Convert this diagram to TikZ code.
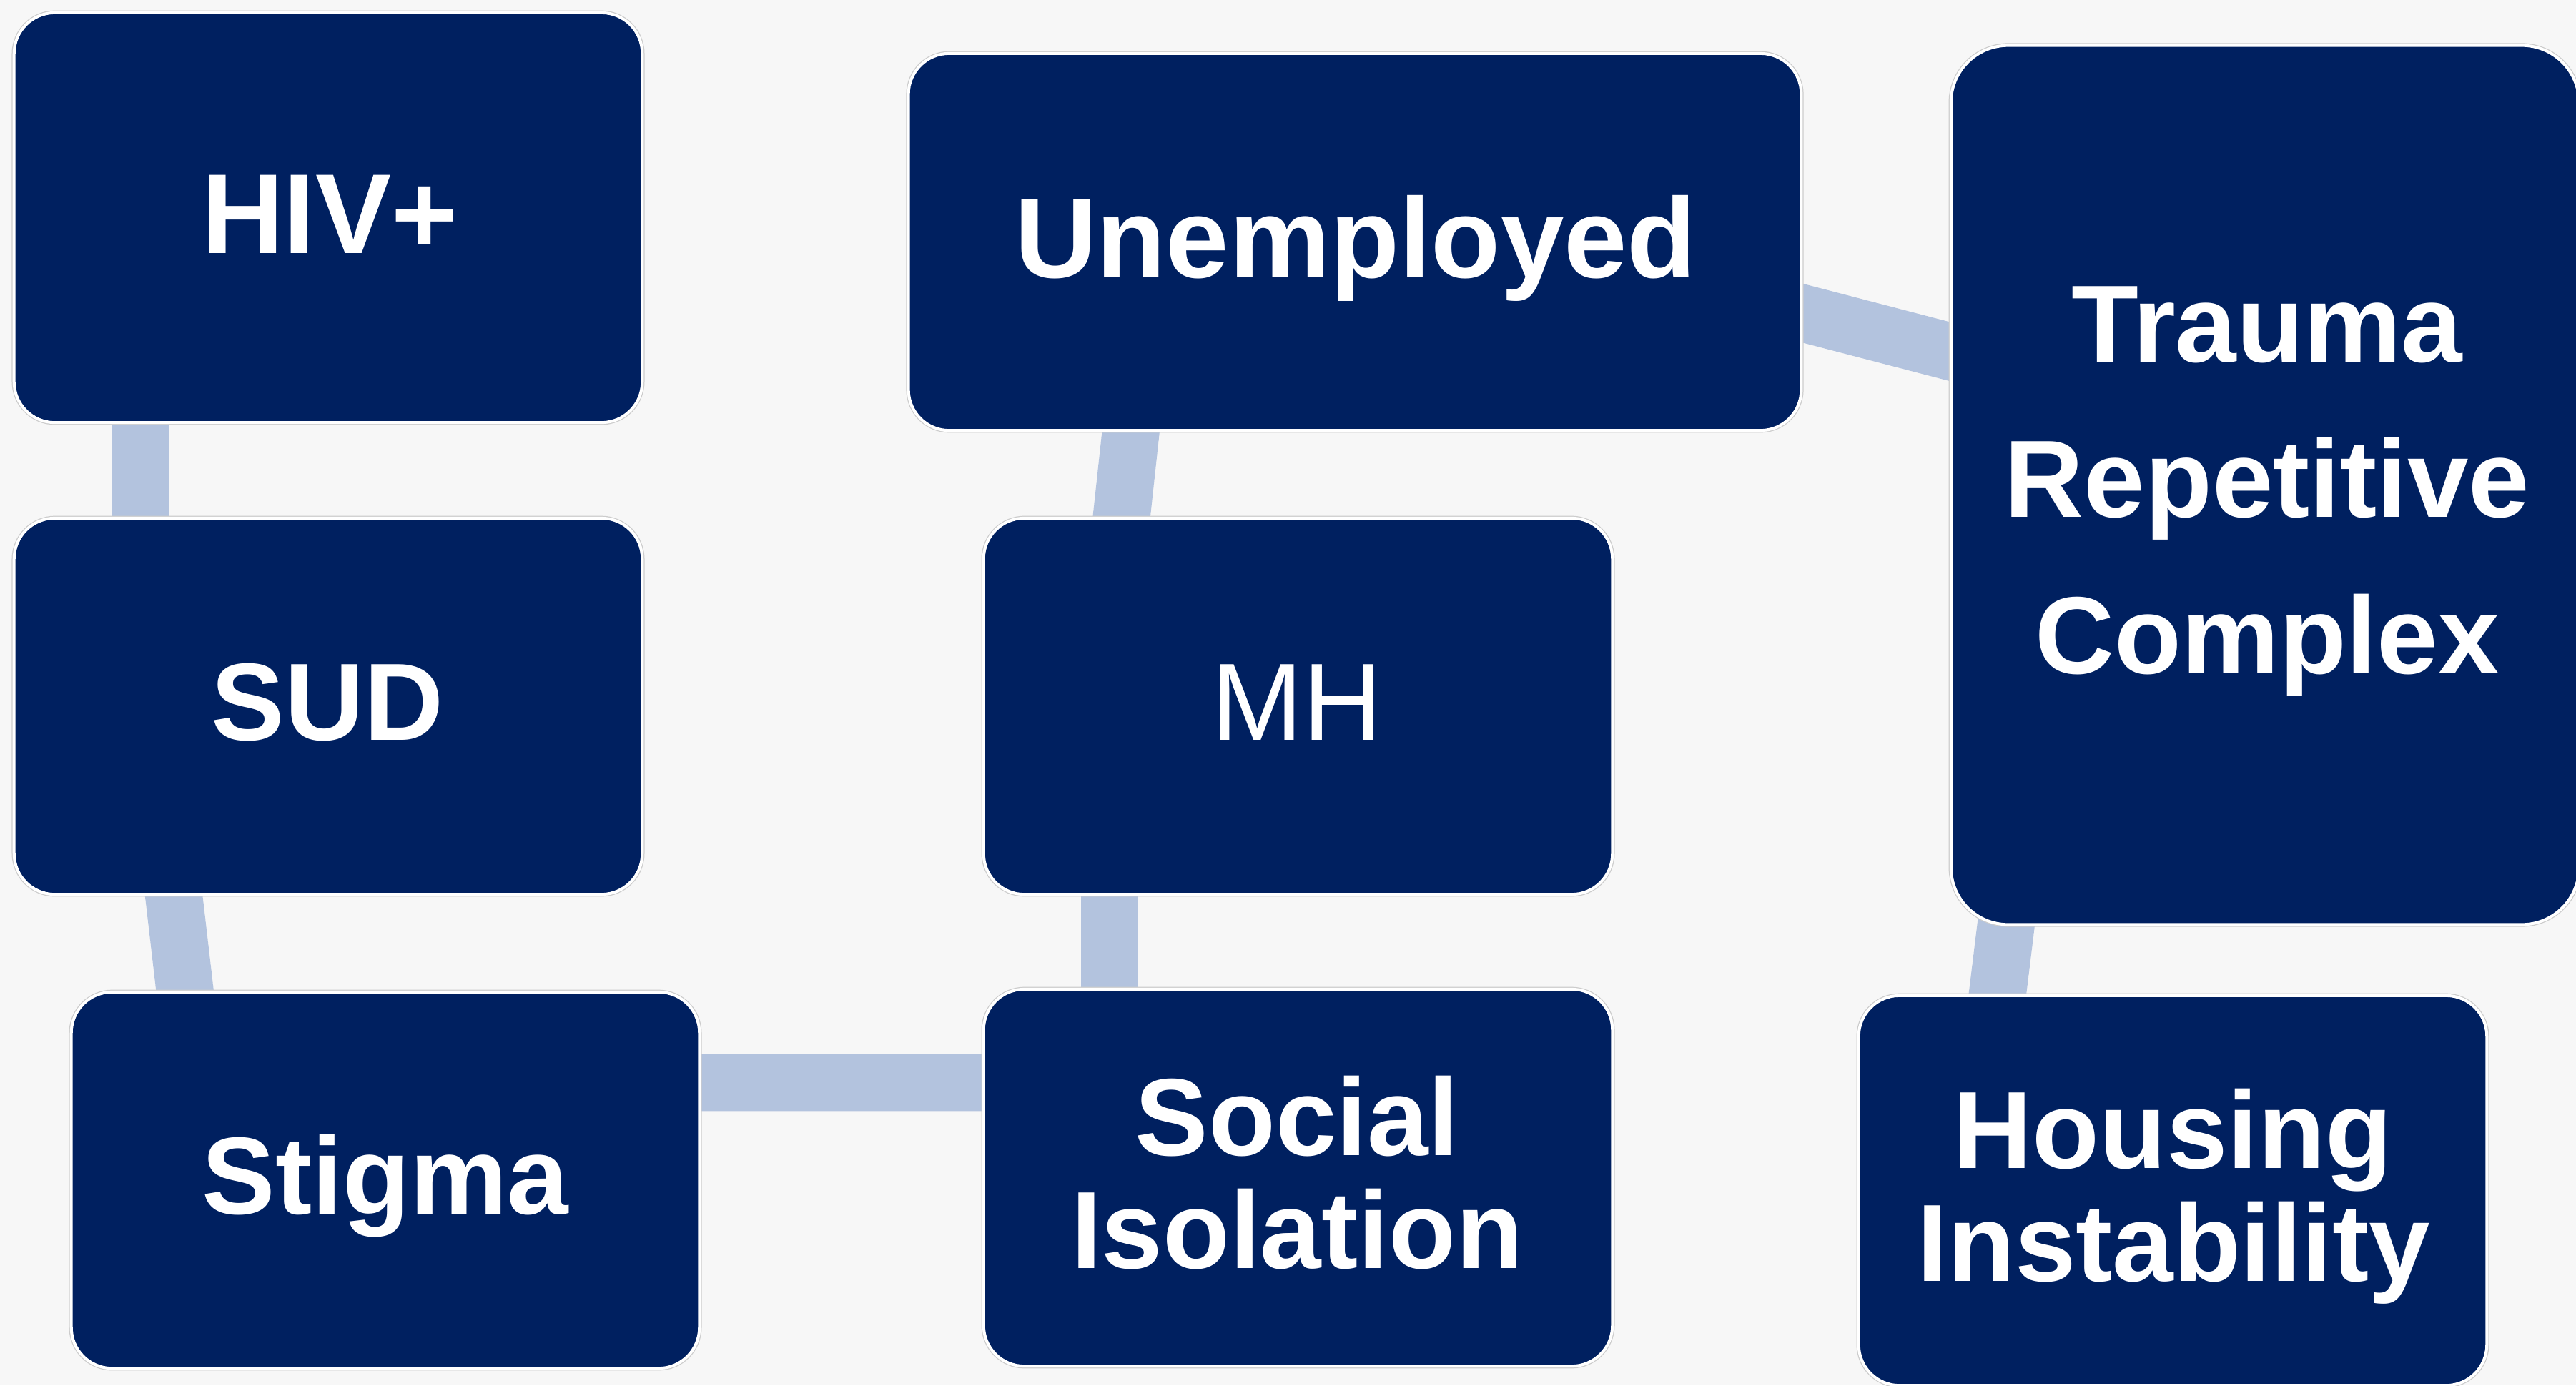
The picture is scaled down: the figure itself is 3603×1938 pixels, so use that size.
\documentclass[tikz,border=0pt]{standalone}
\usepackage{fontspec}
\newfontfamily\labfont{Liberation Sans}
\usetikzlibrary{calc}
\definecolor{navy}{HTML}{002060}
\definecolor{linkc}{HTML}{B3C3DE}
\definecolor{bgc}{HTML}{F7F7F7}
\pgfdeclarelayer{bg}
\pgfsetlayers{bg,main}
\begin{document}
\begin{tikzpicture}[x=0.01cm,y=-0.01cm,
  box/.style={fill=navy, draw=white, line width=0.04cm, rounded corners=0.57cm,
    inner sep=0pt, outer sep=0pt, preaction={draw=black!20, line width=0.065cm}},
  bigbox/.style={box, rounded corners=0.8cm},
  conn/.style={draw=linkc, line width=0.8cm, shorten <=-0.25cm, shorten >=-0.25cm},
  lbl/.style={text=white, inner sep=0pt, anchor=base,
    font=\labfont\bfseries\fontsize{43.7pt}{44pt}\selectfont},
  lblbig/.style={lbl, font=\labfont\bfseries\fontsize{45.2pt}{46pt}\selectfont},
  lblreg/.style={lbl, font=\labfont\fontsize{43.7pt}{44pt}\selectfont}]

\useasboundingbox (0,0) rectangle (3603,1938);

% boxes
\node[box, minimum width=8.78cm, minimum height=5.73cm] (hiv) at (459,304.5) {};
\node[box, minimum width=8.78cm, minimum height=5.26cm] (sud) at (459,988) {};
\node[box, minimum width=8.78cm, minimum height=5.26cm] (stigma) at (539,1651) {};
\node[box, minimum width=12.48cm, minimum height=5.27cm] (unemp) at (1895,338.5) {};
\node[box, minimum width=8.79cm, minimum height=5.26cm] (mh) at (1815.5,988) {};
\node[box, minimum width=8.79cm, minimum height=5.27cm] (social) at (1815.5,1647.5) {};
\node[bigbox, minimum width=8.78cm, minimum height=12.29cm] (trauma) at (3168,678.5) {};
\node[box, minimum width=8.78cm, minimum height=5.45cm] (housing) at (3039,1665.5) {};

% labels
\node[lblbig] (thiv) at (461,354) {HIV+};
\node[lblbig] (tunemp) at (1896,388) {Unemployed};
\node[lbl] (tsud) at (458,1035) {SUD};
\node[lbl] (tstigma) at (539,1698) {Stigma};
\node[lblreg] (tmh) at (1814,1035) {MH};
\node[lbl] (tsocial1) at (1814,1616) {Social};
\node[lbl] (tsocial2) at (1814,1774) {Isolation};
\node[lbl] (ttrauma1) at (3171,506) {Trauma};
\node[lbl] (ttrauma2) at (3171,723) {Repetitive};
\node[lbl] (ttrauma3) at (3171,942) {Complex};
\node[lbl] (thousing1) at (3039,1634) {Housing};
\node[lbl] (thousing2) at (3040,1792) {Instability};

\begin{pgfonlayer}{bg}
\fill[bgc] (0,0) rectangle (3603,1938);
\draw[conn] ([xshift=1.76cm]hiv.south west) -- ([xshift=1.76cm]sud.north west);
\draw[conn] ([xshift=2.23cm]sud.south west) -- ([xshift=1.59cm]stigma.north west);
\draw[conn] ([yshift=-1.265cm]stigma.north east) -- ([yshift=-1.305cm]social.north west);
\draw[conn] ([xshift=1.76cm]mh.south west) -- ([xshift=1.76cm]social.north west);
\draw[conn] ([xshift=3.11cm]unemp.south west) -- ([xshift=1.926cm]mh.north west);
\draw[conn] ([yshift=-3.625cm]unemp.north east) -- ([yshift=-4.283cm]trauma.north west);
\draw[conn] ([xshift=0.77cm]trauma.south west) -- ([xshift=1.937cm]housing.north west);
\end{pgfonlayer}
\end{tikzpicture}
\end{document}
